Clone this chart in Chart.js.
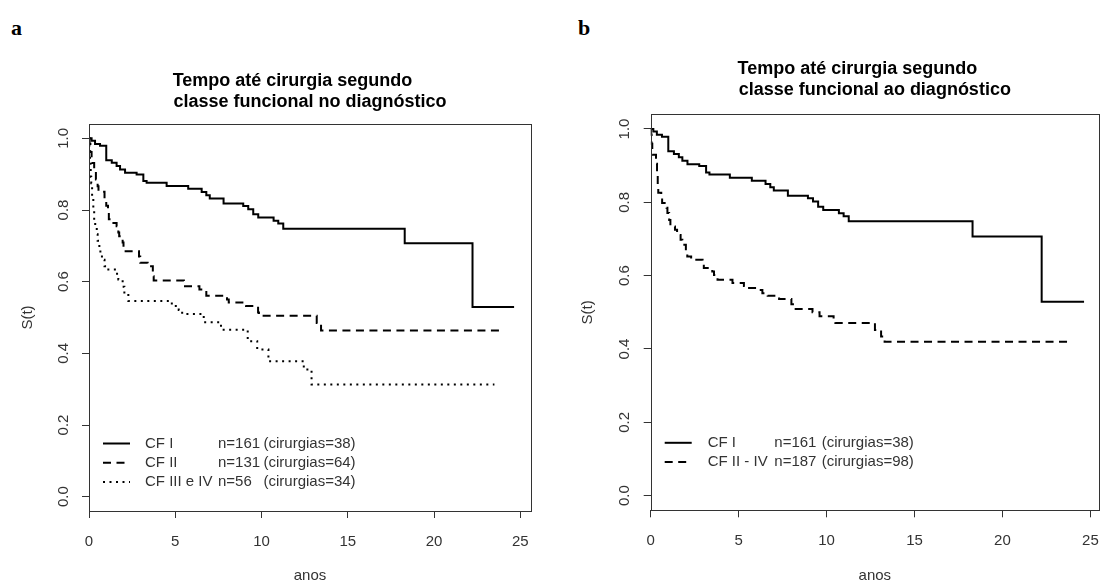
<!DOCTYPE html>
<html lang="pt">
<head>
<meta charset="utf-8">
<title>Tempo até cirurgia segundo classe funcional</title>
<script src="https://cdn.jsdelivr.net/npm/chart.js@4.4.1/dist/chart.umd.min.js"></script>
<style>
  html, body { margin: 0; padding: 0; background: #fff; overflow: hidden; }
  body { width: 1101px; height: 584px; position: relative; }
  .painel { position: absolute; top: 0; }
  .painel canvas { display: block; }
  .letra { position: absolute; top: 15px; line-height: 22px; color: #000;
           font: bold 22px "Liberation Serif", "Times New Roman", serif; }
</style>
</head>
<body>
<div class="letra" style="left:11px">a</div>
<div class="letra" style="left:578px">b</div>
<div class="painel" style="left:0"><canvas id="graficoA" width="560" height="584"></canvas></div>
<div class="painel" style="left:560px"><canvas id="graficoB" width="541" height="584"></canvas></div>
<script>
// Curvas de Kaplan-Meier: tempo (anos) e S(t) logo após cada degrau

// CF I (n=161) - a mesma curva nos dois painéis
const tempoCF1 = [0, 0.15, 0.35, 0.64, 1.0, 1.32, 1.6, 1.8, 2.09, 2.76, 3.15, 3.34, 4.5, 5.75, 6.53, 6.8, 7.0, 7.8, 8.94, 9.23, 9.52, 9.81, 10.7, 10.97, 11.26, 18.3, 22.23, 24.64];
const survCF1 = [1, 0.993, 0.984, 0.979, 0.939, 0.932, 0.923, 0.913, 0.904, 0.899, 0.881, 0.876, 0.867, 0.859, 0.85, 0.841, 0.832, 0.818, 0.811, 0.802, 0.788, 0.779, 0.770, 0.762, 0.748, 0.707, 0.529, 0.529];

// CF II (n=131)
const tempoCF2 = [0, 0.03, 0.08, 0.15, 0.3, 0.4, 0.5, 0.55, 0.9, 1.0, 1.1, 1.15, 1.3, 1.6, 1.7, 1.75, 1.95, 2.0, 2.9, 2.97, 3.4, 3.7, 3.75, 5.5, 6.4, 6.8, 8.0, 8.1, 9.1, 9.8, 9.85, 13.2, 13.45, 23.8];
const survCF2 = [1, 0.985, 0.962, 0.931, 0.908, 0.885, 0.866, 0.851, 0.832, 0.812, 0.793, 0.774, 0.764, 0.755, 0.737, 0.727, 0.709, 0.685, 0.670, 0.653, 0.643, 0.615, 0.603, 0.587, 0.578, 0.561, 0.550, 0.542, 0.532, 0.514, 0.505, 0.485, 0.464, 0.464];

// CF III e IV (n=56)
const tempoCF3 = [0, 0.02, 0.06, 0.1, 0.13, 0.18, 0.25, 0.3, 0.36, 0.45, 0.5, 0.6, 0.66, 0.75, 0.9, 1.05, 1.5, 1.7, 1.95, 2.05, 2.28, 4.8, 5.2, 5.4, 6.65, 7.65, 9.2, 9.75, 10.4, 12.45, 12.9, 23.5];
const survCF3 = [1, 0.964, 0.929, 0.893, 0.875, 0.839, 0.804, 0.768, 0.750, 0.732, 0.714, 0.696, 0.679, 0.661, 0.643, 0.634, 0.622, 0.606, 0.586, 0.566, 0.546, 0.532, 0.521, 0.510, 0.487, 0.466, 0.434, 0.411, 0.378, 0.355, 0.313, 0.313];

// CF II - IV (n=187)
const tempoCF24 = [0, 0.02, 0.05, 0.09, 0.3, 0.36, 0.4, 0.43, 0.6, 0.65, 0.9, 0.95, 1.05, 1.12, 1.38, 1.5, 1.57, 1.7, 1.8, 2.0, 2.08, 2.3, 2.95, 3.02, 3.5, 3.6, 3.8, 4.65, 5.3, 5.4, 6.0, 6.35, 6.65, 7.3, 8.0, 8.15, 9.2, 9.6, 10.4, 10.5, 12.75, 13.1, 13.3, 23.8];
const survCF24 = [1, 0.985, 0.96, 0.93, 0.905, 0.875, 0.85, 0.826, 0.816, 0.798, 0.785, 0.771, 0.752, 0.734, 0.725, 0.716, 0.711, 0.698, 0.684, 0.666, 0.652, 0.643, 0.634, 0.621, 0.611, 0.602, 0.589, 0.580, 0.572, 0.566, 0.561, 0.552, 0.545, 0.536, 0.522, 0.509, 0.500, 0.489, 0.478, 0.471, 0.452, 0.434, 0.420, 0.420];

// Eixos
const ticksX = [0, 5, 10, 15, 20, 25];
const rotulosX = ['0', '5', '10', '15', '20', '25'];
const ticksY = [0, 0.2, 0.4, 0.6, 0.8, 1.0];
const rotulosY = ['0.0', '0.2', '0.4', '0.6', '0.8', '1.0'];

// Textos das legendas
const nomesA = ['CF I', 'CF II', 'CF III e IV'];
const nA = ['n=161', 'n=131', 'n=56'];
const cirurgiasA = ['(cirurgias=38)', '(cirurgias=64)', '(cirurgias=34)'];
const nomesB = ['CF I', 'CF II - IV'];
const nB = ['n=161', 'n=187'];
const cirurgiasB = ['(cirurgias=38)', '(cirurgias=98)'];

// Títulos (a primeira linha leva espaços no fim, como no original)
const tituloA = ['Tempo até cirurgia segundo       ', 'classe funcional no diagnóstico'];
const tituloB = ['Tempo até cirurgia segundo       ', 'classe funcional ao diagnóstico'];

const FONTE = '"Liberation Sans", Arial, Helvetica, sans-serif';
const COR_TEXTO = '#333';

Chart.defaults.font.family = FONTE;
Chart.defaults.color = COR_TEXTO;

// Estilos de linha (lty do R)
const tracos = {
    solida: [],
    tracejada: [8, 5.5],
    pontilhada: [2, 4.5]
};

function pontos(tempos, surv) {
    return tempos.map((t, i) => ({ x: t, y: surv[i] }));
}

function serie(nome, tempos, surv, traco) {
    return {
        label: nome,
        data: pontos(tempos, surv),
        borderColor: '#000',
        borderWidth: 2,
        borderDash: traco,
        borderCapStyle: 'butt',
        stepped: 'before',
        pointRadius: 0,
        fill: false
    };
}

// Caixa em volta da área do gráfico
const moldura = {
    id: 'moldura',
    afterDatasetsDraw(chart) {
        const { ctx, chartArea: a } = chart;
        ctx.save();
        ctx.strokeStyle = '#333';
        ctx.lineWidth = 1;
        ctx.setLineDash([]);
        ctx.strokeRect(Math.round(a.left) + 0.5, Math.round(a.top) + 0.5,
            Math.round(a.right - a.left), Math.round(a.bottom - a.top));
        ctx.restore();
    }
};

// Legenda no canto inferior esquerdo, em três colunas
const legendaKM = {
    id: 'legendaKM',
    afterDraw(chart, args, opts) {
        const { ctx, chartArea } = chart;
        ctx.save();
        ctx.font = '15px ' + FONTE;
        ctx.textBaseline = 'middle';
        ctx.textAlign = 'left';
        ctx.fillStyle = COR_TEXTO;
        chart.data.datasets.forEach((ds, i) => {
            const y = chartArea.bottom - 67.5 + i * 19.2;
            const x0 = chartArea.left + 14;
            ctx.strokeStyle = ds.borderColor;
            ctx.lineWidth = ds.borderWidth;
            ctx.lineCap = 'butt';
            ctx.setLineDash(ds.borderDash);
            ctx.beginPath();
            ctx.moveTo(x0, y);
            ctx.lineTo(x0 + 27, y);
            ctx.stroke();
            ctx.fillText(opts.nomes[i], chartArea.left + opts.colNome, y);
            ctx.fillText(opts.n[i], chartArea.left + opts.colN, y);
            ctx.fillText(opts.cirurgias[i], chartArea.left + opts.colCir, y);
        });
        ctx.restore();
    }
};

function escalas(xMax, larguraY, alturaX) {
    const grade = { drawOnChartArea: false, drawTicks: true, tickLength: 7, color: '#333', lineWidth: 1 };
    return {
        x: {
            type: 'linear',
            min: 0,
            max: xMax,
            afterBuildTicks: s => { s.ticks = ticksX.map(v => ({ value: v })); },
            afterFit: s => { s.height = alturaX; s.paddingLeft = 0; s.paddingRight = 0; },
            ticks: {
                padding: 15,
                maxRotation: 0,
                autoSkip: false,
                color: COR_TEXTO,
                font: { size: 15 },
                callback: (v, i) => rotulosX[i]
            },
            grid: grade,
            border: { display: false },
            title: {
                display: true,
                text: 'anos',
                color: COR_TEXTO,
                font: { size: 15, lineHeight: 1.1 },
                padding: { top: 0, bottom: 0 }
            }
        },
        y: {
            type: 'linear',
            min: -0.04,
            max: 1.04,
            afterBuildTicks: s => { s.ticks = ticksY.map(v => ({ value: v })); },
            afterFit: s => { s.width = larguraY; s.paddingTop = 0; s.paddingBottom = 0; },
            ticks: {
                minRotation: 90,
                maxRotation: 90,
                crossAlign: 'center',
                padding: 8,
                autoSkip: false,
                color: COR_TEXTO,
                font: { size: 15 },
                callback: (v, i) => rotulosY[i]
            },
            grid: grade,
            border: { display: false },
            title: {
                display: true,
                text: 'S(t)',
                color: COR_TEXTO,
                font: { size: 15, lineHeight: 1.1 },
                padding: { top: 20, bottom: 0 }
            }
        }
    };
}

function criarPainel(canvasId, cfg) {
    const canvas = document.getElementById(canvasId);
    return new Chart(canvas.getContext('2d'), {
        type: 'line',
        data: { datasets: cfg.series },
        options: {
            responsive: false,
            animation: false,
            events: [],
            layout: { padding: { left: 0, right: cfg.margemDireita, top: 0, bottom: 0 } },
            scales: escalas(cfg.xMax, cfg.larguraY, cfg.alturaX),
            plugins: {
                legend: { display: false },
                tooltip: { enabled: false },
                title: {
                    display: true,
                    fullSize: false,
                    text: cfg.titulo,
                    color: '#000',
                    font: { size: 18, weight: 'bold', lineHeight: '21px' },
                    padding: cfg.paddingTitulo
                },
                legendaKM: cfg.legenda
            }
        },
        plugins: [moldura, legendaKM]
    });
}

// Painel a: três classes funcionais
criarPainel('graficoA', {
    series: [
        serie(nomesA[0], tempoCF1, survCF1, tracos.solida),
        serie(nomesA[1], tempoCF2, survCF2, tracos.tracejada),
        serie(nomesA[2], tempoCF3, survCF3, tracos.pontilhada)
    ],
    titulo: tituloA,
    paddingTitulo: { top: 70.5, bottom: 11.5 },
    margemDireita: 29,
    xMax: 25.62,
    larguraY: 89,
    alturaX: 73,
    legenda: { nomes: nomesA, n: nA, cirurgias: cirurgiasA, colNome: 56, colN: 129, colCir: 174.5 }
});

// Painel b: CF I contra CF II - IV
criarPainel('graficoB', {
    series: [
        serie(nomesB[0], tempoCF1, survCF1, tracos.solida),
        serie(nomesB[1], tempoCF24, survCF24, tracos.tracejada)
    ],
    titulo: tituloB,
    paddingTitulo: { top: 59, bottom: 13.3 },
    margemDireita: 2,
    xMax: 25.49,
    larguraY: 90.7,
    alturaX: 73.7,
    legenda: { nomes: nomesB, n: nB, cirurgias: cirurgiasB, colNome: 57, colN: 123.6, colCir: 171 }
});
</script>
</body>
</html>
